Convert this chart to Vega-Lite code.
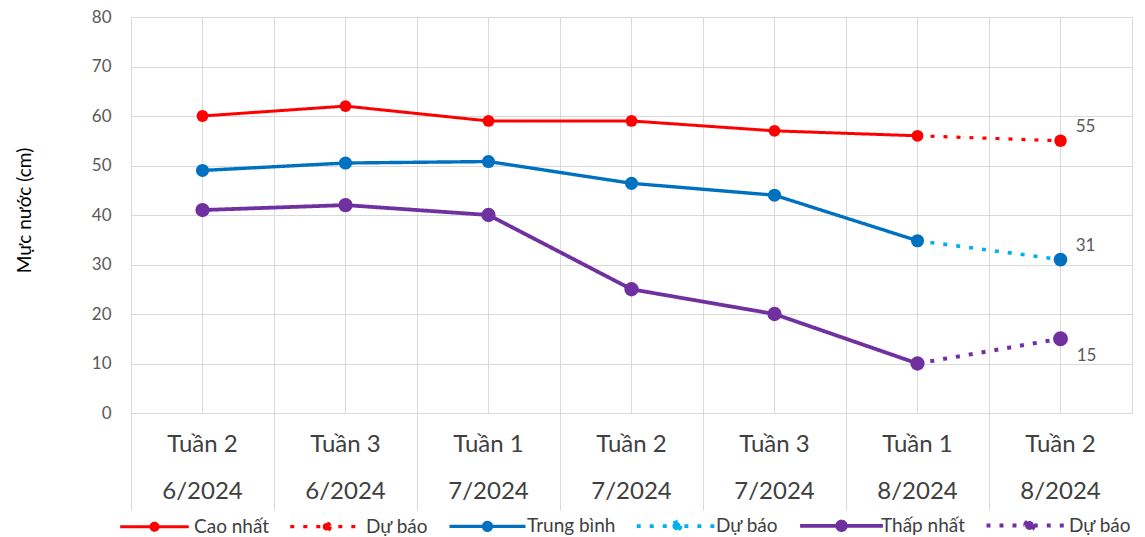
{
  "$schema": "https://vega.github.io/schema/vega-lite/v6.json",
  "width": 1001,
  "height": 396,
  "autosize": {"type": "none"},
  "padding": {"left": 131, "top": 17, "right": 13, "bottom": 124},
  "background": "white",
  "config": {
    "font": "Lato",
    "view": {"stroke": "#d9d9d9", "strokeWidth": 1}
  },
  "data": {
    "values": [
      {"week": 0, "cat": "Tuần 2|6/2024", "series": "Cao nhất", "value": 60},
      {"week": 1, "cat": "Tuần 3|6/2024", "series": "Cao nhất", "value": 62},
      {"week": 2, "cat": "Tuần 1|7/2024", "series": "Cao nhất", "value": 59},
      {"week": 3, "cat": "Tuần 2|7/2024", "series": "Cao nhất", "value": 59},
      {"week": 4, "cat": "Tuần 3|7/2024", "series": "Cao nhất", "value": 57},
      {"week": 5, "cat": "Tuần 1|8/2024", "series": "Cao nhất", "value": 56},
      {"week": 5, "cat": "Tuần 1|8/2024", "series": "Dự báo 1", "value": 56},
      {"week": 6, "cat": "Tuần 2|8/2024", "series": "Dự báo 1", "value": 55},
      {"week": 0, "cat": "Tuần 2|6/2024", "series": "Trung bình", "value": 49},
      {"week": 1, "cat": "Tuần 3|6/2024", "series": "Trung bình", "value": 50.5},
      {"week": 2, "cat": "Tuần 1|7/2024", "series": "Trung bình", "value": 50.8},
      {"week": 3, "cat": "Tuần 2|7/2024", "series": "Trung bình", "value": 46.4},
      {"week": 4, "cat": "Tuần 3|7/2024", "series": "Trung bình", "value": 44},
      {"week": 5, "cat": "Tuần 1|8/2024", "series": "Trung bình", "value": 34.8},
      {"week": 5, "cat": "Tuần 1|8/2024", "series": "Dự báo 2", "value": 34.8},
      {"week": 6, "cat": "Tuần 2|8/2024", "series": "Dự báo 2", "value": 31},
      {"week": 0, "cat": "Tuần 2|6/2024", "series": "Thấp nhất", "value": 41},
      {"week": 1, "cat": "Tuần 3|6/2024", "series": "Thấp nhất", "value": 42},
      {"week": 2, "cat": "Tuần 1|7/2024", "series": "Thấp nhất", "value": 40},
      {"week": 3, "cat": "Tuần 2|7/2024", "series": "Thấp nhất", "value": 25},
      {"week": 4, "cat": "Tuần 3|7/2024", "series": "Thấp nhất", "value": 20},
      {"week": 5, "cat": "Tuần 1|8/2024", "series": "Thấp nhất", "value": 10},
      {"week": 5, "cat": "Tuần 1|8/2024", "series": "Dự báo 3", "value": 10},
      {"week": 6, "cat": "Tuần 2|8/2024", "series": "Dự báo 3", "value": 15}
    ]
  },
  "encoding": {
    "x": {
      "field": "cat",
      "type": "nominal",
      "sort": {"field": "week"},
      "scale": {"paddingInner": 0, "paddingOuter": 0},
      "axis": {
        "title": null,
        "bandPosition": 0,
        "grid": true,
        "gridColor": "#d9d9d9",
        "domainColor": "#d9d9d9",
        "tickColor": "#d9d9d9",
        "tickSize": 97,
        "labelAngle": 0,
        "labelOffset": 0,
        "labelPadding": -78,
        "labelBaseline": "top",
        "labelExpr": "split(datum.label, '|')",
        "labelLineHeight": 47,
        "labelFontSize": 24,
        "labelColor": "#404040",
        "labelBound": false,
        "labelFlush": false,
        "labelOverlap": false
      }
    },
    "y": {
      "field": "value",
      "type": "quantitative",
      "scale": {"domain": [0, 80], "nice": false},
      "axis": {
        "values": [0, 10, 20, 30, 40, 50, 60, 70, 80],
        "grid": true,
        "gridColor": "#d9d9d9",
        "domain": false,
        "ticks": false,
        "labelPadding": 20,
        "labelFontSize": 17,
        "labelColor": "#595959",
        "title": "Mực nước (cm)",
        "titleFontSize": 19,
        "titleFontWeight": "normal",
        "titleColor": "#000000",
        "titleX": -107,
        "titleY": 193,
        "titleAngle": -90,
        "titleAlign": "center",
        "titleBaseline": "middle"
      }
    }
  },
  "layer": [
    {
      "mark": {"type": "rule", "color": "#d9d9d9", "strokeWidth": 1},
      "encoding": {"y": null}
    },
    {
      "mark": {"type": "line"},
      "encoding": {
        "color": {
          "field": "series",
          "type": "nominal",
          "scale": {
            "domain": ["Cao nhất", "Dự báo 1", "Trung bình", "Dự báo 2", "Thấp nhất", "Dự báo 3"],
            "range": ["#ff0000", "#ff0000", "#0070c0", "#00b0f0", "#7030a0", "#7030a0"]
          },
          "legend": {
            "title": null,
            "orient": "none",
            "direction": "horizontal",
            "columns": 6,
            "legendX": 14,
            "legendY": 499,
            "symbolType": "M-5.8,0H-0.6A0.6,0.6 0 1,1 0.6,0H5.8M0.6,0A0.6,0.6 0 1,1 -0.6,0",
            "symbolSize": 100,
            "symbolStrokeWidth": 3.5,
            "labelExpr": "indexof(datum.label, 'Dự báo') == 0 ? 'Dự báo' : datum.label",
            "labelFontSize": 19,
            "labelColor": "#404040",
            "labelOffset": 30,
            "columnPadding": 13,
            "symbolOpacity": 1,
            "encode": {
              "symbols": {
                "update": {
                  "fill": {"scale": "color", "field": "value"},
                  "strokeDash": {"scale": "strokeDash", "field": "value"}
                }
              }
            }
          }
        },
        "strokeDash": {
          "field": "series",
          "type": "nominal",
          "scale": {
            "domain": ["Cao nhất", "Dự báo 1", "Trung bình", "Dự báo 2", "Thấp nhất", "Dự báo 3"],
            "range": [[1, 0], [4, 9], [1, 0], [4, 9], [1, 0], [4, 9]]
          },
          "legend": null
        },
        "strokeWidth": {
          "field": "series",
          "type": "nominal",
          "scale": {
            "domain": ["Cao nhất", "Dự báo 1", "Trung bình", "Dự báo 2", "Thấp nhất", "Dự báo 3"],
            "range": [3, 4, 4.5, 4, 4.5, 4]
          },
          "legend": null
        }
      }
    },
    {
      "mark": {"type": "point", "filled": true, "opacity": 1},
      "transform": [{"filter": "indexof(datum.series, 'Dự báo') < 0 || datum.week == 6"}],
      "encoding": {
        "color": {
          "condition": {"test": "datum.series === 'Dự báo 2'", "value": "#0070c0"},
          "field": "series",
          "type": "nominal",
          "legend": null
        },
        "size": {
          "field": "series",
          "type": "nominal",
          "scale": {
            "domain": ["Cao nhất", "Dự báo 1", "Trung bình", "Dự báo 2", "Thấp nhất", "Dự báo 3"],
            "range": [140, 220, 260, 130, 260, 230]
          },
          "legend": null
        }
      }
    },
    {
      "mark": {"type": "text", "dx": 25, "dy": -14, "fontSize": 17, "color": "#595959"},
      "transform": [{"filter": "datum.week == 6 && datum.series !== 'Dự báo 3'"}],
      "encoding": {"text": {"field": "value", "type": "quantitative"}}
    },
    {
      "mark": {"type": "text", "dx": 26, "dy": 17, "fontSize": 17, "color": "#595959"},
      "transform": [{"filter": "datum.week == 6 && datum.series === 'Dự báo 3'"}],
      "encoding": {"text": {"field": "value", "type": "quantitative"}}
    }
  ]
}
